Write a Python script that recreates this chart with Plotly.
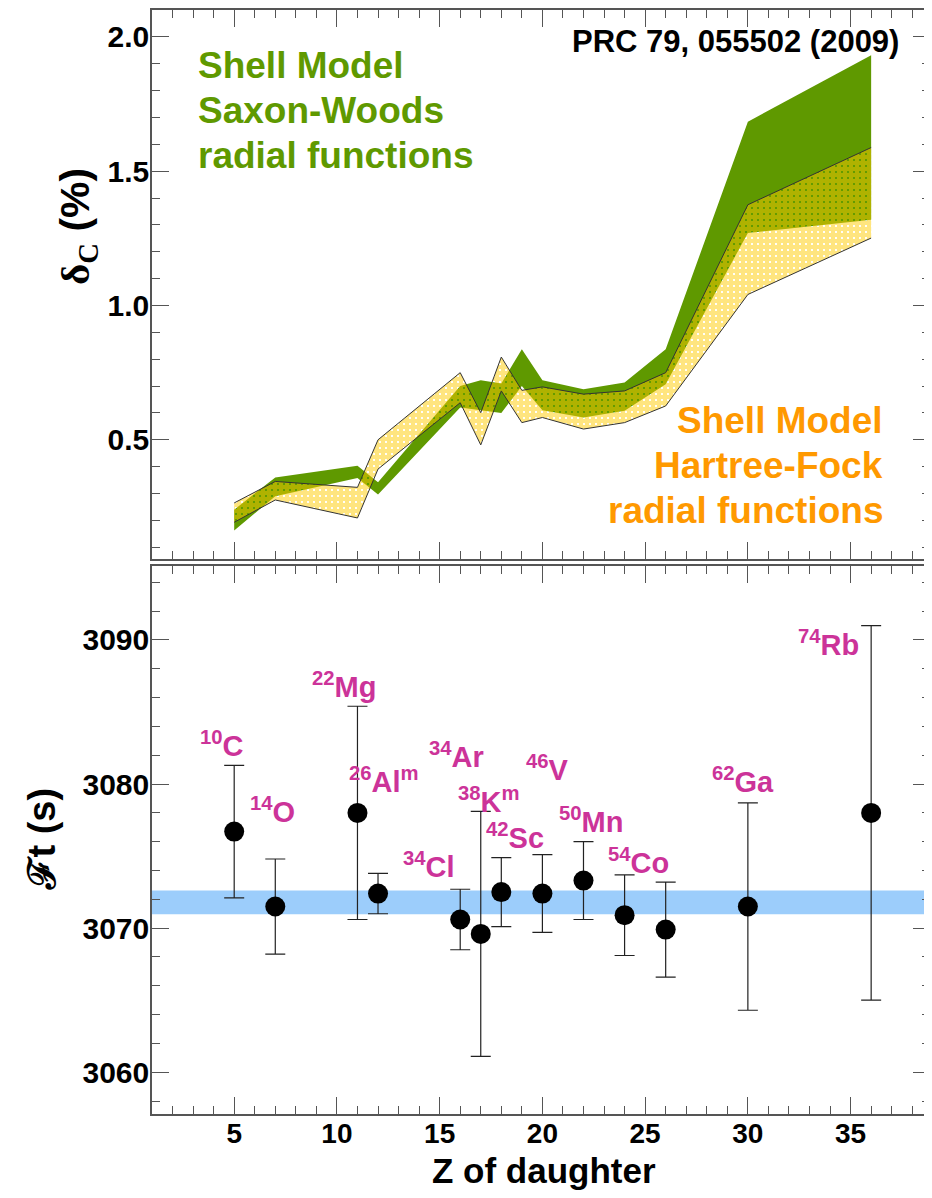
import plotly.graph_objects as go

# ---------------- data: top panel (delta_C, %) ----------------
Z_BAND = [5, 7, 11, 12, 16, 17, 18, 19, 20, 22, 24, 26, 30, 36]
SW_UPPER = [0.24, 0.360, 0.403, 0.342, 0.70, 0.722, 0.71, 0.837, 0.722, 0.688, 0.713, 0.837, 1.684, 1.932]
SW_LOWER = [0.162, 0.29, 0.358, 0.296, 0.62, 0.610, 0.60, 0.70, 0.61, 0.583, 0.608, 0.707, 1.27, 1.319]
HF_UPPER = [0.265, 0.345, 0.323, 0.500, 0.750, 0.601, 0.808, 0.684, 0.697, 0.670, 0.682, 0.750, 1.375, 1.588]
HF_LOWER = [0.193, 0.276, 0.209, 0.391, 0.638, 0.481, 0.682, 0.564, 0.583, 0.540, 0.564, 0.626, 1.041, 1.251]

# ---------------- data: bottom panel (corrected Ft, s) ----------------
NUCLIDES = ["<sup>10</sup>C", "<sup>14</sup>O", "<sup>22</sup>Mg", "<sup>26</sup>Al<sup>m</sup>",
            "<sup>34</sup>Cl", "<sup>34</sup>Ar", "<sup>38</sup>K<sup>m</sup>", "<sup>42</sup>Sc",
            "<sup>46</sup>V", "<sup>50</sup>Mn", "<sup>54</sup>Co", "<sup>62</sup>Ga", "<sup>74</sup>Rb"]
Z_DAUGHTER = [5, 7, 11, 12, 16, 17, 18, 20, 22, 24, 26, 30, 36]
FT_VALUES = [3076.7, 3071.5, 3078.0, 3072.4, 3070.6, 3069.6, 3072.5, 3072.4, 3073.3, 3070.9, 3069.9, 3071.5, 3078.0]
FT_ERRORS = [4.6, 3.3, 7.4, 1.4, 2.1, 8.5, 2.4, 2.7, 2.7, 2.8, 3.3, 7.2, 13.0]
FT_MEAN = 3071.79
FT_MEAN_ERR = 0.83

# label anchor positions (data units, left edge / letter centre)
LABEL_X = [3.23, 5.66, 8.67, 10.51, 13.13, 14.39, 15.80, 17.16, 19.10, 20.70, 23.08, 28.18, 32.35]
LABEL_Y = [3082.64, 3078.06, 3086.74, 3080.14, 3074.24, 3081.88, 3078.75, 3076.25, 3080.97, 3077.36, 3074.51, 3080.14, 3089.65]

# ---------------- styling ----------------
PAGE_OFF = 8                      # default body margin of the html page
W, H = 932 - PAGE_OFF, 1198 - 2 * PAGE_OFF
ML, MR, MT, MB = 144, 0, 1, 76
PW, PH = W - ML - MR, H - MT - MB
GREEN = "#5f9900"
YELLOW = "#ffcc00"
ORANGE = "#ff9900"
MAGENTA = "#cc3399"
BLUE = "#9ccdfb"
FONT = "Liberation Sans, Arial, sans-serif"


def px_x(px):
    return (px - PAGE_OFF - ML) / PW


def px_y(py):
    return (H - MB - (py - PAGE_OFF)) / PH


fig = go.Figure()

# green Saxon-Woods band
fig.add_trace(go.Scatter(
    x=Z_BAND + Z_BAND[::-1], y=SW_UPPER + SW_LOWER[::-1],
    fill="toself", fillcolor=GREEN, line=dict(width=0, color=GREEN),
    mode="lines", xaxis="x", yaxis="y", hoverinfo="skip", showlegend=False))

# yellow hatched Hartree-Fock band
fig.add_trace(go.Scatter(
    x=Z_BAND + Z_BAND[::-1], y=HF_UPPER + HF_LOWER[::-1],
    fill="toself", fillcolor="rgba(0,0,0,0)",
    fillpattern=dict(shape="+", fgcolor=YELLOW, bgcolor="rgba(255,255,255,0)", size=6, solidity=0.9),
    line=dict(width=0, color=YELLOW),
    mode="lines", xaxis="x", yaxis="y", hoverinfo="skip", showlegend=False))
for edge in (HF_UPPER, HF_LOWER):
    fig.add_trace(go.Scatter(
        x=Z_BAND, y=edge, mode="lines", line=dict(color="#333333", width=1),
        xaxis="x", yaxis="y", hoverinfo="skip", showlegend=False))

# Ft points
fig.add_trace(go.Scatter(
    x=Z_DAUGHTER, y=FT_VALUES, mode="markers",
    marker=dict(size=20, color="black"),
    error_y=dict(type="data", array=FT_ERRORS, color="#222222", thickness=1.2, width=10),
    xaxis="x2", yaxis="y2", showlegend=False))

# average Ft band
fig.add_shape(type="rect", xref="x2 domain", yref="y2", x0=0, x1=1,
              y0=FT_MEAN - FT_MEAN_ERR, y1=FT_MEAN + FT_MEAN_ERR,
              fillcolor=BLUE, line=dict(width=0), layer="below")

ann = []
for txt, lx, ly in zip(NUCLIDES, LABEL_X, LABEL_Y):
    ann.append(dict(x=lx, y=ly, xref="x2", yref="y2", text=txt, showarrow=False,
                    xanchor="left", yanchor="middle", yshift=2,
                    font=dict(family=FONT, size=29, color=MAGENTA, weight="bold")))

for i, line in enumerate(["Shell Model", "Saxon-Woods", "radial functions"]):
    ann.append(dict(x=px_x(196), y=px_y(65 + 45 * i), xref="paper", yref="paper", text=line,
                    showarrow=False, xanchor="left", yanchor="middle",
                    font=dict(family=FONT, size=37, color=GREEN, weight="bold")))
for i, line in enumerate(["Shell Model", "Hartree-Fock", "radial functions"]):
    ann.append(dict(x=px_x(887), y=px_y(420 + 45 * i), xref="paper", yref="paper", text=line,
                    showarrow=False, xanchor="right", yanchor="middle",
                    font=dict(family=FONT, size=37, color=ORANGE, weight="bold")))

ann.append(dict(x=px_x(903), y=px_y(41), xref="paper", yref="paper", text="PRC 79, 055502 (2009)",
                showarrow=False, xanchor="right", yanchor="middle",
                font=dict(family=FONT, size=31, color="black", weight="bold")))
ann.append(dict(x=px_x(545), y=px_y(1171), xref="paper", yref="paper", text="Z of daughter",
                showarrow=False, xanchor="center", yanchor="middle",
                font=dict(family=FONT, size=35, color="black", weight="bold")))
ann.append(dict(x=px_x(78), y=px_y(226), xref="paper", yref="paper",
                text='<span style="font-family:Liberation Serif">δ<sub>C</sub></span> (%)',
                showarrow=False, xanchor="center", yanchor="middle", textangle=-90,
                font=dict(family=FONT, size=41, color="black", weight="bold")))
ann.append(dict(x=px_x(42), y=px_y(838), xref="paper", yref="paper",
                text="ℱt (s)",
                showarrow=False, xanchor="center", yanchor="middle", textangle=-90,
                font=dict(family=FONT, size=38, color="black", weight="bold")))

AXLINE = "#555555"
common_x = dict(range=[1, 1 + PW / 20.6], dtick=5, tick0=0, ticks="inside", ticklen=17,
                tickcolor=AXLINE, tickwidth=1.3, showline=True, linecolor=AXLINE, linewidth=1.5,
                mirror="ticks", showgrid=False, zeroline=False,
                minor=dict(dtick=1, ticks="inside", ticklen=8, tickcolor=AXLINE, tickwidth=1.3, showgrid=False),
                tickfont=dict(family=FONT, size=28, color="black", weight="bold"),
                ticklabelstandoff=-6)
common_y = dict(ticks="inside", ticklen=17, tickcolor=AXLINE, tickwidth=1.3, showline=True,
                linecolor=AXLINE, linewidth=1.5, mirror="ticks", showgrid=False, zeroline=False,
                tickfont=dict(family=FONT, size=30, color="black", weight="bold"),
                ticklabelstandoff=-5)

fig.update_layout(
    width=W, height=H, margin=dict(l=ML, r=MR, t=MT, b=MB),
    paper_bgcolor="white", plot_bgcolor="white",
    xaxis=dict(common_x, domain=[0, 1], anchor="y", showticklabels=False),
    yaxis=dict(common_y, domain=[(H - MB - (558.3 - PAGE_OFF)) / PH, 1], anchor="x", range=[0.057, 2.1],
               dtick=0.5, tick0=0, tickformat=".1f",
               minor=dict(dtick=0.1, ticks="inside", ticklen=8, tickcolor=AXLINE, tickwidth=1.3, showgrid=False)),
    xaxis2=dict(common_x, domain=[0, 1], anchor="y2", showticklabels=True),
    yaxis2=dict(common_y, domain=[0, (H - MB - (566 - PAGE_OFF)) / PH], anchor="x2", range=[3057.1, 3095.1],
                dtick=10, tick0=0,
                minor=dict(dtick=2, ticks="inside", ticklen=8, tickcolor=AXLINE, tickwidth=1.3, showgrid=False)),
    annotations=ann,
    showlegend=False,
)

fig.write_html("out.html")
